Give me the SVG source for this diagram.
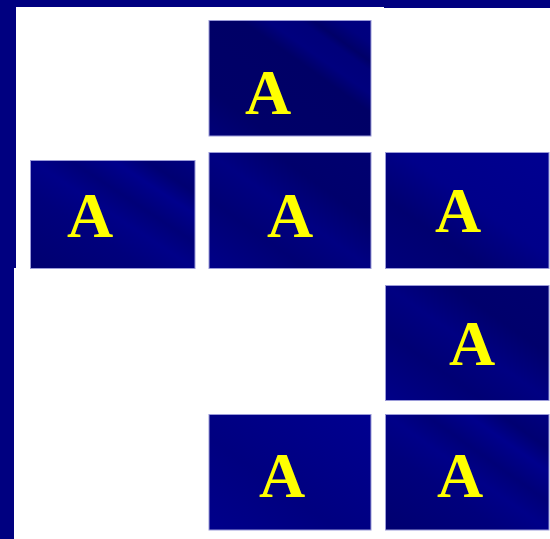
<svg xmlns="http://www.w3.org/2000/svg" width="550" height="539" viewBox="0 0 550 539">
<style>
.tile{stroke:#9a9ad8;stroke-width:1}
.lbl{font-family:"Liberation Serif","Times New Roman",serif;font-weight:bold;font-size:64px;fill:#ffff00;text-anchor:middle}
</style>
<defs>
<linearGradient id="gA" x1="0" y1="1" x2="1" y2="0">
<stop offset="0" stop-color="#000078"/>
<stop offset="0.2" stop-color="#000068"/>
<stop offset="0.6" stop-color="#000066"/>
<stop offset="0.68" stop-color="#00007e"/>
<stop offset="0.78" stop-color="#00007a"/>
<stop offset="0.82" stop-color="#000068"/>
<stop offset="0.9" stop-color="#00007e"/>
<stop offset="1" stop-color="#000080"/>
</linearGradient>
<linearGradient id="gB" x1="0" y1="1" x2="1" y2="0">
<stop offset="0" stop-color="#000070"/>
<stop offset="0.35" stop-color="#00007c"/>
<stop offset="0.5" stop-color="#000088"/>
<stop offset="0.62" stop-color="#000078"/>
<stop offset="0.75" stop-color="#00008c"/>
<stop offset="0.85" stop-color="#000072"/>
<stop offset="1" stop-color="#000080"/>
</linearGradient>
<linearGradient id="gC" x1="0" y1="1" x2="1" y2="0">
<stop offset="0" stop-color="#000088"/>
<stop offset="0.3" stop-color="#000074"/>
<stop offset="0.5" stop-color="#000082"/>
<stop offset="0.7" stop-color="#00006c"/>
<stop offset="1" stop-color="#000070"/>
</linearGradient>
<linearGradient id="gD" x1="0" y1="1" x2="1" y2="0">
<stop offset="0" stop-color="#00007a"/>
<stop offset="0.3" stop-color="#000070"/>
<stop offset="0.55" stop-color="#00008a"/>
<stop offset="1" stop-color="#000090"/>
</linearGradient>
<linearGradient id="gE" x1="0" y1="1" x2="1" y2="0">
<stop offset="0" stop-color="#00008a"/>
<stop offset="0.4" stop-color="#000080"/>
<stop offset="1" stop-color="#000090"/>
</linearGradient>
</defs>
<rect x="0" y="0" width="550" height="539" fill="#000080"/>
<path d="M16,7 H384 V8 H550 V539 H14 V268 H16 Z" fill="#ffffff"/>
<g id="node-top">
<rect class="tile" x="209" y="20.5" width="162" height="115.5" fill="url(#gA)"/>
<text class="lbl" x="268" y="114">A</text>
</g>
<g id="node-row2-left">
<rect class="tile" x="30.5" y="160.5" width="164.5" height="108" fill="url(#gB)"/>
<text class="lbl" x="90" y="237">A</text>
</g>
<g id="node-row2-middle">
<rect class="tile" x="209" y="152.5" width="162" height="116" fill="url(#gC)"/>
<text class="lbl" x="290" y="237">A</text>
</g>
<g id="node-row2-right">
<rect class="tile" x="385.5" y="152.5" width="163.5" height="116" fill="url(#gD)"/>
<text class="lbl" x="458" y="232">A</text>
</g>
<g id="node-row3-right">
<rect class="tile" x="385.5" y="285.5" width="163.5" height="115" fill="url(#gC)"/>
<text class="lbl" x="472" y="365">A</text>
</g>
<g id="node-row4-middle">
<rect class="tile" x="209" y="414.5" width="162" height="115.5" fill="url(#gE)"/>
<text class="lbl" x="282" y="497">A</text>
</g>
<g id="node-row4-right">
<rect class="tile" x="385.5" y="414.5" width="163.5" height="115.5" fill="url(#gB)"/>
<text class="lbl" x="460" y="497">A</text>
</g>
<g id="connectors"/>
</svg>
